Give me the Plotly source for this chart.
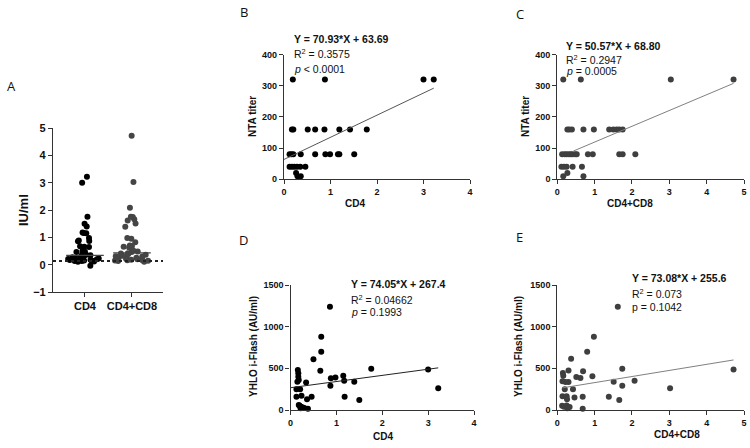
import plotly.graph_objects as go

# ---------------- data ----------------
# Panel A: IU/ml per group
cd4_iu = [3.22, 3.00, 1.75, 1.50, 1.40, 1.18, 1.16, 1.15, 0.98, 0.88, 0.87, 0.86,
          0.67, 0.66, 0.65, 0.50, 0.47, 0.46, 0.38, 0.36, 0.34, 0.34, 0.30, 0.27,
          0.24, 0.23, 0.22, 0.21, 0.20, 0.18, 0.18, 0.17, 0.17, 0.16, 0.15, 0.14,
          0.13, 0.13, 0.12, 0.11, -0.04]
cd4cd8_iu = [4.72, 3.02, 2.08, 1.75, 1.74, 1.66, 1.62, 1.51, 1.39, 0.98, 0.95, 0.82,
             0.70, 0.68, 0.66, 0.63, 0.52, 0.48, 0.46, 0.42, 0.41, 0.39, 0.36, 0.33,
             0.31, 0.30, 0.27, 0.25, 0.25, 0.22, 0.20, 0.18, 0.16, 0.16, 0.15, 0.14,
             0.13, 0.11]
group_names = ["CD4", "CD4+CD8"]
group_medians = [0.34, 0.43]
cutoff = 0.13

# Panel B: CD4 vs NTA titer
b_x = [0.19, 0.88, 3.00, 3.22, 0.17, 0.20, 0.51, 0.67, 0.87, 1.19, 1.42, 1.78,
       0.12, 0.16, 0.20, 0.36, 0.67, 0.89, 0.99, 1.16, 1.19, 1.51,
       0.12, 0.17, 0.22, 0.28, 0.35, 0.46, 0.26, 0.29, 0.36]
b_y = [320, 320, 320, 320, 160, 160, 160, 160, 160, 160, 160, 160,
       80, 80, 80, 80, 80, 80, 80, 80, 80, 80,
       40, 40, 40, 40, 40, 40, 20, 10, 10]

# Panel C: CD4+CD8 vs NTA titer
c_x = [0.16, 0.63, 3.04, 4.72, 0.27, 0.32, 0.39, 0.70, 0.98, 1.39, 1.50, 1.59, 1.66, 1.75,
       0.13, 0.20, 0.25, 0.31, 0.36, 0.41, 0.48, 0.52, 0.82, 0.95, 1.66, 1.75, 2.09,
       0.11, 0.18, 0.25, 0.41, 0.66, 0.16, 0.27, 0.70]
c_y = [320, 320, 320, 320, 160, 160, 160, 160, 160, 160, 160, 160, 160, 160,
       80, 80, 80, 80, 80, 80, 80, 80, 80, 80, 80, 80, 80,
       40, 40, 40, 40, 40, 10, 20, 10]

# Panel D: CD4 vs YHLO i-Flash
d_x = [0.86, 0.67, 0.67, 0.50, 0.65, 0.88, 0.98, 0.87, 1.15, 1.17, 1.18, 1.39,
       1.50, 1.76, 3.00, 3.22, 0.34, 0.36, 0.46, 0.24, 0.38, 0.16, 0.17, 0.17,
       0.15, 0.13, 0.21, 0.13, 0.18, 0.20, 0.23, 0.27, 0.30, 0.22, 0.18]
d_y = [1240, 880, 700, 610, 470, 380, 390, 290, 410, 350, 160, 340,
       120, 495, 485, 260, 330, 130, 160, 170, 15, 480, 440, 400,
       340, 250, 250, 160, 60, 50, 40, 30, 25, 20, 360]

# Panel E: CD4+CD8 vs YHLO i-Flash
e_x = [1.62, 0.98, 0.80, 0.37, 0.30, 0.15, 0.16, 0.14, 0.22, 0.30, 0.51, 0.62,
       0.69, 0.94, 1.74, 1.51, 1.74, 2.07, 3.02, 4.72, 0.42, 0.14, 0.25, 0.46,
       0.68, 1.38, 1.66, 0.68, 0.13, 0.18, 0.25, 0.27, 0.33, 0.20, 0.26]
e_y = [1240, 880, 700, 615, 475, 445, 410, 345, 335, 335, 395, 385,
       465, 405, 495, 340, 290, 350, 260, 485, 250, 165, 165, 150,
       160, 160, 120, 15, 50, 40, 55, 20, 35, 250, 130]

# regression fits (slope, intercept, x-start, x-end)
fit_b = (70.93, 63.69, 0.0, 3.22)
fit_c = (50.57, 68.80, 0.43, 4.72)
fit_d = (74.05, 267.4, 0.0, 3.22)
fit_e = (73.08, 255.6, 0.14, 4.72)

W, H = 750, 448
FONT = "Liberation Sans"
AX = "#333333"


def px(x):
    return x / W


def py(y):
    return 1 - y / H


fig = go.Figure()

# ---------------- Panel A ----------------
colors_a = ["#000000", "#454545"]
for i, vals in enumerate([cd4_iu, cd4cd8_iu]):
    fig.add_trace(go.Box(
        x=[i] * len(vals), y=vals, boxpoints="all", jitter=1.0, pointpos=0,
        width=1.0, marker=dict(color=colors_a[i], size=6),
        line=dict(width=0, color="rgba(0,0,0,0)"), fillcolor="rgba(0,0,0,0)",
        xaxis="x", yaxis="y", showlegend=False, name=group_names[i]))
    fig.add_shape(type="line", xref="x", yref="y", x0=i - 0.4, x1=i + 0.4,
                  y0=group_medians[i], y1=group_medians[i],
                  line=dict(color="#444444", width=1.2))
fig.add_shape(type="line", xref="x domain", yref="y", x0=0, x1=1, y0=cutoff, y1=cutoff,
              line=dict(color="#222222", width=2, dash="dot"))


def scatter_panel(xs, ys, fit, color, linecolor, xa, ya):
    fig.add_trace(go.Scatter(x=xs, y=ys, mode="markers",
                             marker=dict(color=color, size=6), cliponaxis=False,
                             xaxis=xa, yaxis=ya, showlegend=False))
    m, b, x0, x1 = fit
    fig.add_trace(go.Scatter(x=[x0, x1], y=[m * x0 + b, m * x1 + b], mode="lines",
                             line=dict(color=linecolor, width=1), cliponaxis=False,
                             xaxis=xa, yaxis=ya, showlegend=False))


scatter_panel(b_x, b_y, fit_b, "#000000", "#555555", "x2", "y2")
scatter_panel(c_x, c_y, fit_c, "#3f3f3f", "#808080", "x3", "y3")
scatter_panel(d_x, d_y, fit_d, "#000000", "#222222", "x4", "y4")
scatter_panel(e_x, e_y, fit_e, "#3f3f3f", "#808080", "x5", "y5")

tick_small = dict(family=FONT, size=9, color="#111111", weight="bold")
tick_big = dict(family=FONT, size=11, color="#111111", weight="bold")


def axis(domain, rng, anchor, dtick=None, tickfont=tick_small, **kw):
    d = dict(domain=domain, range=rng, anchor=anchor, showline=True, linecolor=AX,
             linewidth=1.2, ticks="outside", ticklen=4, tickwidth=1.2, tickcolor=AX,
             showgrid=False, zeroline=False, tickfont=tickfont, automargin=False)
    if dtick is not None:
        d["dtick"] = dtick
        d["tick0"] = 0
    d.update(kw)
    return d


layout = dict(
    width=W, height=H, margin=dict(l=0, r=0, t=0, b=0),
    paper_bgcolor="white", plot_bgcolor="white", showlegend=False,
    font=dict(family=FONT, color="#111111"),
    # A
    xaxis=axis([px(53), px(163)], [-0.68, 1.66], "y", tickfont=tick_big,
               tickmode="array", tickvals=[0, 1], ticktext=group_names),
    yaxis=axis([py(292), py(128)], [-1, 5], "x", dtick=1, tickfont=tick_big),
    # B
    xaxis2=axis([px(284), px(470)], [0, 4], "y2", dtick=1),
    yaxis2=axis([py(179.3), py(54.5)], [0, 400], "x2", dtick=100),
    # C
    xaxis3=axis([px(557.3), px(744)], [0, 5], "y3", dtick=1),
    yaxis3=axis([py(179.3), py(54.5)], [0, 400], "x3", dtick=100),
    # D
    xaxis4=axis([px(290.5), px(474)], [0, 4], "y4", dtick=1),
    yaxis4=axis([py(410), py(285)], [0, 1500], "x4", dtick=500),
    # E
    xaxis5=axis([px(557.3), px(744)], [0, 5], "y5", dtick=1),
    yaxis5=axis([py(410), py(285)], [0, 1500], "x5", dtick=500),
)
fig.update_layout(**layout)

annots = []


def txt(x, y, text, size=10, bold=False, xanchor="left", angle=0,
        family=FONT, color="#111111"):
    annots.append(dict(x=px(x), y=py(y), xref="paper", yref="paper", text=text,
                       showarrow=False, xanchor=xanchor, yanchor="middle",
                       textangle=angle, borderpad=0,
                       font=dict(family=family, size=size, color=color,
                                 weight="bold" if bold else "normal")))


# panel letters
for lab, x, y in [("A", 11, 86), ("B", 243.5, 12.5), ("C", 519.5, 14),
                  ("D", 243.5, 240.5), ("E", 519.5, 236.5)]:
    txt(x, y, lab, size=13, xanchor="center", family="Open Sans")

# axis titles
txt(23, 210, "IU/ml", size=13, bold=True, xanchor="center", angle=-90)
txt(252, 117, "NTA titer", size=10, bold=True, xanchor="center", angle=-90)
txt(355, 204, "CD4", size=10, bold=True, xanchor="center")
txt(525, 117, "NTA titer", size=10, bold=True, xanchor="center", angle=-90)
txt(630, 204, "CD4+CD8", size=10, bold=True, xanchor="center")
txt(253, 347, "YHLO i-Flash (AU/ml)", size=10, bold=True, xanchor="center", angle=-90)
txt(383, 436, "CD4", size=10, bold=True, xanchor="center")
txt(518, 347, "YHLO i-Flash (AU/ml)", size=10, bold=True, xanchor="center", angle=-90)
txt(676.5, 434, "CD4+CD8", size=10, bold=True, xanchor="center")

# regression stats
txt(292.5, 39, "Y = 70.93*X + 63.69", size=10.5, bold=True)
txt(293, 53.5, "R<sup>2</sup> = 0.3575", size=10.5)
txt(293, 68.5, "<i>p</i> < 0.0001", size=10.5)

txt(565, 46, "Y = 50.57*X + 68.80", size=10.5, bold=True)
txt(565, 59.5, "R<sup>2</sup> = 0.2947", size=10.5)
txt(565, 71, "<i>p</i> = 0.0005", size=10.5)

txt(349.5, 284, "Y = 74.05*X + 267.4", size=10.5, bold=True)
txt(349.5, 299.5, "R<sup>2</sup> = 0.04662", size=10.5)
txt(349.5, 312, "<i>p</i> = 0.1993", size=10.5)

txt(630.5, 277.5, "Y = 73.08*X + 255.6", size=10.5, bold=True)
txt(631, 293, "R<sup>2</sup> = 0.073", size=10.5)
txt(630.5, 307, "p = 0.1042", size=10.5)

fig.update_layout(annotations=annots)
fig.write_html("out.html", config={"displayModeBar": False},
               post_script="document.body.style.margin='0';document.body.style.padding='0';")
